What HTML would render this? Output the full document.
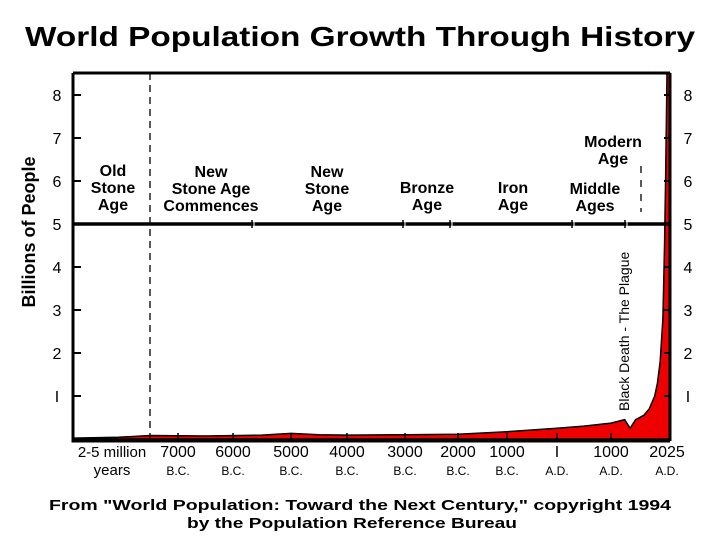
<!DOCTYPE html>
<html><head><meta charset="utf-8"><style>
body{margin:0;background:#fff;}
svg{display:block;font-family:"Liberation Sans",sans-serif;}
</style></head><body>
<svg id="chart" width="720" height="540">
<text x="360" y="46" text-anchor="middle" font-size="28" font-weight="bold" textLength="670" lengthAdjust="spacingAndGlyphs">World Population Growth Through History</text>
<text transform="translate(35,232) rotate(-90)" text-anchor="middle" font-size="18" font-weight="bold">Billions of People</text>
<g id="plot"></g>
<text x="360" y="510" text-anchor="middle" font-size="15" font-weight="bold" textLength="622" lengthAdjust="spacingAndGlyphs">From "World Population: Toward the Next Century," copyright 1994</text>
<text x="352" y="528" text-anchor="middle" font-size="15" font-weight="bold" textLength="330" lengthAdjust="spacingAndGlyphs">by the Population Reference Bureau</text>
</svg>
<script>
const years=[-9950,-8500,-7500,-6500,-5500,-5000,-4500,-4000,-3000,-2000,-1000,1,500,1000,1250,1350,1450,1600,1700,1800,1850,1900,1950,1980,2000,2015,2025];
const pops=[0.02,0.04,0.08,0.07,0.09,0.13,0.1,0.09,0.1,0.11,0.17,0.25,0.3,0.37,0.45,0.25,0.45,0.55,0.7,1.0,1.3,1.8,2.8,4.5,6.1,7.5,8.5];
const yTicks=[1,2,3,4,5,6,7,8];
const xTickYears=[-7000,-6000,-5000,-4000,-3000,-2000,-1000,1,1000,2025];
const xTickTop=["7000","6000","5000","4000","3000","2000","1000","I","1000","2025"];
const xTickBot=["B.C.","B.C.","B.C.","B.C.","B.C.","B.C.","B.C.","A.D.","A.D.","A.D."];
const L=73,R=670,T=73,B=439;
// piecewise (non-uniform) time axis of the original drawing
const axDom=[-9950,-7500,-7000,-6000,-5000,-4000,-3000,-2000,-1000,1,1000,2025,2080];
const axRng=[73,150,178,233,291,347,405,458,507,557,611,667,670];
function X(y){for(let i=0;i<axDom.length-1;i++){if(y<=axDom[i+1]){const f=(y-axDom[i])/(axDom[i+1]-axDom[i]);return axRng[i]+f*(axRng[i+1]-axRng[i]);}}return axRng[axRng.length-1];}
const Y=v=>B-v*43;
const ns="http://www.w3.org/2000/svg";
const g=document.getElementById('plot');
function mk(t,a,txt){const e=document.createElementNS(ns,t);for(const k in a)e.setAttribute(k,a[k]);if(txt!==undefined)e.textContent=txt;g.appendChild(e);return e;}
let d=`M${X(years[0])},${B}`;years.forEach((yr,i)=>d+=` L${X(yr)},${Y(pops[i])}`);d+=` L${R},${Y(pops[pops.length-1])} L${R},${B} Z`;
const area=mk('path',{d:d,fill:'#ee0000',stroke:'#000','stroke-width':1.5});


const fr=mk('path',{d:`M${L},${T} L${R},${T} M${L},${T} L${L},${B+2} L${R},${B+2} M${R},${T} L${R},${B+2}`,stroke:'#000','stroke-width':3,fill:'none'});


yTicks.forEach(v=>{
 mk('line',{x1:L,x2:L+8,y1:Y(v),y2:Y(v),stroke:'#000','stroke-width':2});
 mk('line',{x1:R-6,x2:R,y1:Y(v),y2:Y(v),stroke:'#000','stroke-width':2});
 const t1=mk('text',{x:L-16,y:Y(v)+6,'text-anchor':'middle','font-size':16},v===1?'I':String(v));
 
 
 const t2=mk('text',{x:688,y:Y(v)+6,'text-anchor':'middle','font-size':16},v===1?'I':String(v));
 
 
});
const fl=mk('line',{x1:L,x2:R,y1:Y(5),y2:Y(5),stroke:'#000','stroke-width':3.5});


[252,403,450,572,625].forEach(x=>{mk('line',{x1:x,x2:x,y1:Y(5)-4,y2:Y(5)+4,stroke:'#000','stroke-width':1.5});mk('line',{x1:x+2,x2:x+2,y1:Y(5)-2,y2:Y(5)+2,stroke:'#fff','stroke-width':1});});
const ds=mk('line',{x1:150,x2:150,y1:T,y2:B,stroke:'#000','stroke-width':1.3,'stroke-dasharray':'7,5'});


mk('line',{x1:641,x2:641,y1:166,y2:212,stroke:'#000','stroke-width':1.3,'stroke-dasharray':'7,7'});
const lab=mk('text',{x:112,y:457,'text-anchor':'middle','font-size':15},'2-5 million');


mk('text',{x:112,y:475,'text-anchor':'middle','font-size':15},'years');
xTickYears.forEach((yr,i)=>{
 const x=X(yr);
 if(i<9)mk('line',{x1:x,x2:x,y1:B-6,y2:B,stroke:'#000','stroke-width':1.5});
 const a=mk('text',{x:x,y:457,'text-anchor':'middle','font-size':16},xTickTop[i]);
 
 
 mk('text',{x:x,y:475,'text-anchor':'middle','font-size':12},xTickBot[i]);
});
function era(x,lines,y0,name){lines.forEach((s,i)=>{const t=mk('text',{x:x,y:y0+i*17,'text-anchor':'middle','font-size':16,'font-weight':'bold'},s);});}
era(113,['Old','Stone','Age'],176,'era-old-stone-age');
era(211,['New','Stone Age','Commences'],177,'era-new-stone-age-commences');
era(327,['New','Stone','Age'],177,'era-new-stone-age');
era(427,['Bronze','Age'],193,'era-bronze-age');
era(513,['Iron','Age'],193,'era-iron-age');
era(595,['Middle','Ages'],194,'era-middle-ages');
era(613,['Modern','Age'],147,'era-modern-age');
const bd=mk('text',{transform:'translate(629,411) rotate(-90)','font-size':14},'Black Death - The Plague');


</script>
</body></html>
